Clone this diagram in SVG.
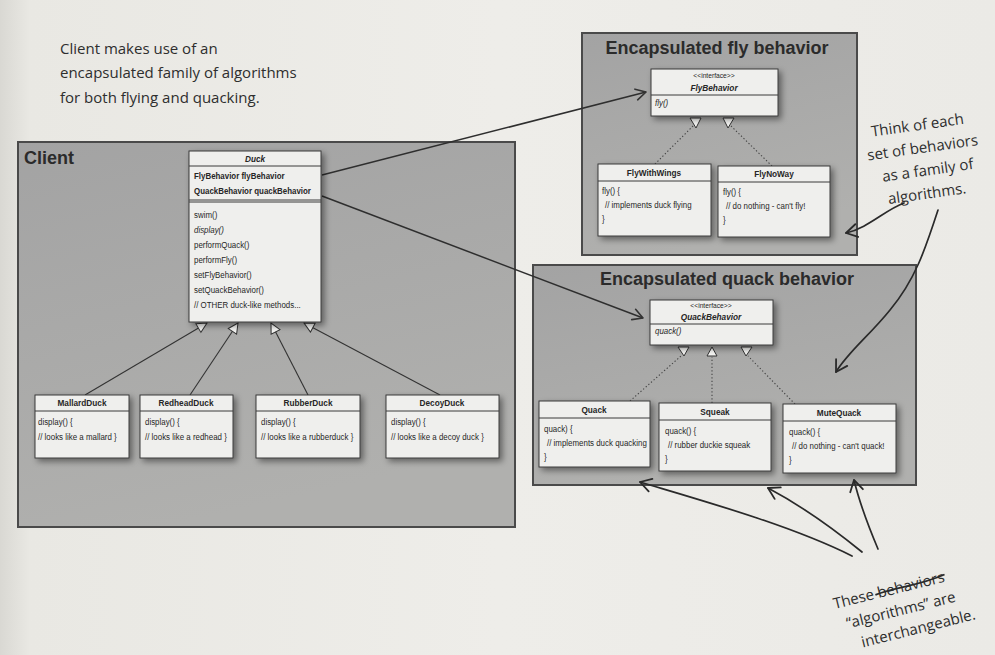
<svg xmlns="http://www.w3.org/2000/svg" width="995" height="655" viewBox="0 0 995 655">
  <defs>
    <linearGradient id="page" x1="0" y1="0" x2="1" y2="0">
      <stop offset="0" stop-color="#d9d8d3"/>
      <stop offset="0.03" stop-color="#e9e8e3"/>
      <stop offset="0.5" stop-color="#eeede9"/>
      <stop offset="1" stop-color="#ebeae6"/>
    </linearGradient>
    <linearGradient id="panel" x1="0" y1="0" x2="0.3" y2="1">
      <stop offset="0" stop-color="#a3a3a3"/>
      <stop offset="1" stop-color="#b0b0ae"/>
    </linearGradient>
    <filter id="shadow" x="-20%" y="-20%" width="150%" height="150%">
      <feDropShadow dx="3" dy="3" stdDeviation="3" flood-color="#000" flood-opacity="0.45"/>
    </filter>
    <marker id="inherit" viewBox="0 0 12 12" refX="11" refY="6" markerWidth="12" markerHeight="12" markerUnits="userSpaceOnUse" orient="auto">
      <path d="M1,1 L11,6 L1,11 Z" fill="#f4f4f2" stroke="#333" stroke-width="1"/>
    </marker>
    <marker id="open" viewBox="0 0 14 14" refX="12" refY="7" markerWidth="14" markerHeight="14" markerUnits="userSpaceOnUse" orient="auto">
      <path d="M2,1.5 L12,7 L2,12.5" fill="none" stroke="#333" stroke-width="1.6" stroke-linecap="round" stroke-linejoin="round"/>
    </marker>
    <marker id="hand" viewBox="0 0 16 16" refX="13" refY="8" markerWidth="16" markerHeight="16" markerUnits="userSpaceOnUse" orient="auto">
      <path d="M2,1.5 L13,8 L2,14.5" fill="none" stroke="#2a2a2a" stroke-width="1.8" stroke-linecap="round" stroke-linejoin="round"/>
    </marker>
  </defs>
  <style>
    .panel { fill: url(#panel); stroke: #4a4a4a; stroke-width: 2; }
    .panelTitle { font-family: "Liberation Sans", Arial, sans-serif; font-weight: bold; font-size: 18px; fill: #2b2b2b; }
    .box { fill: #efefed; stroke: #3a3a3a; stroke-width: 1; filter: url(#shadow); }
    .div { stroke: #3a3a3a; stroke-width: 1; }
    .uml { font-family: "Liberation Sans", Arial, sans-serif; font-size: 9.2px; fill: #262626;
           transform-box: fill-box; transform-origin: 0 50%; transform: scaleX(0.86); }
    .name { font-weight: bold; text-anchor: middle; font-size: 9.6px; transform-origin: 50% 50%; }
    .ital { font-style: italic; }
    .bold { font-weight: bold; }
    .small { font-size: 7.8px; text-anchor: middle; transform-origin: 50% 50%; }
    .hand { font-family: "Open Sans", "DejaVu Sans", sans-serif; font-size: 15px; fill: #2e2e2e; }
    .gen { stroke: #333; stroke-width: 1.1; fill: none; marker-end: url(#inherit); }
    .real { stroke: #444; stroke-width: 1.1; stroke-dasharray: 1.3 2.2; fill: none; }
    .assoc { stroke: #2e2e2e; stroke-width: 1.5; fill: none; marker-end: url(#open); }
    .ink { stroke: #2a2a2a; stroke-width: 1.7; fill: none; stroke-linecap: round; marker-end: url(#hand); }
  </style>

  <!-- page -->
  <rect x="0" y="0" width="995" height="655" fill="url(#page)"/>

  <!-- panels -->
  <g id="client-panel">
    <rect class="panel" x="18" y="142" width="497" height="385"/>
    <text class="panelTitle" x="24" y="164" font-size="17">Client</text>
  </g>
  <g id="fly-panel">
    <rect class="panel" x="582" y="33" width="275" height="222"/>
    <text class="panelTitle" x="717" y="54" text-anchor="middle">Encapsulated fly behavior</text>
  </g>
  <g id="quack-panel">
    <rect class="panel" x="533" y="265" width="383" height="220"/>
    <text class="panelTitle" x="727" y="285" text-anchor="middle">Encapsulated quack behavior</text>
  </g>

  <!-- connectors -->
  <g id="connectors">
    <!-- subclasses to Duck -->
    <line class="gen" x1="85" y1="395" x2="207" y2="323"/>
    <line class="gen" x1="190" y1="395" x2="238" y2="323"/>
    <line class="gen" x1="308" y1="395" x2="271" y2="323"/>
    <line class="gen" x1="440" y1="395" x2="304" y2="323"/>
    <!-- fly implementations to FlyBehavior -->
    <line class="real" x1="655" y1="164" x2="694" y2="125"/>
    <line class="real" x1="772" y1="166" x2="730" y2="125"/>
    <path d="M690,118 L701,118 L696,128 Z" fill="#f4f4f2" stroke="#333" stroke-width="1"/>
    <path d="M723,118 L734,118 L728,128 Z" fill="#f4f4f2" stroke="#333" stroke-width="1"/>
    <!-- quack implementations to QuackBehavior -->
    <line class="real" x1="630" y1="401" x2="681" y2="356"/>
    <line class="real" x1="712" y1="403" x2="712" y2="357"/>
    <line class="real" x1="795" y1="404" x2="748" y2="356"/>
    <path d="M678,347 L689,347 L684,356 Z" fill="#f4f4f2" stroke="#333" stroke-width="1"/>
    <path d="M707,356 L717,356 L712,347 Z" fill="#f4f4f2" stroke="#333" stroke-width="1"/>
    <path d="M741,347 L752,347 L746,356 Z" fill="#f4f4f2" stroke="#333" stroke-width="1"/>
    <!-- Duck references to behaviors -->
    <line class="assoc" x1="322" y1="175" x2="646" y2="92"/>
    <line class="assoc" x1="322" y1="196" x2="643" y2="318"/>
  </g>

  <!-- Duck -->
  <g id="duck">
    <rect class="box" x="189" y="151" width="132" height="171"/>
    <line class="div" x1="189" y1="166" x2="321" y2="166"/>
    <line class="div" x1="189" y1="200" x2="321" y2="200"/>
    <line class="div" x1="189" y1="202" x2="321" y2="202"/>
    <text class="uml name ital" x="255" y="162">Duck</text>
    <text class="uml bold" x="194" y="179">FlyBehavior flyBehavior</text>
    <text class="uml bold" x="194" y="194">QuackBehavior quackBehavior</text>
    <text class="uml" x="194" y="218">swim()</text>
    <text class="uml ital" x="194" y="233">display()</text>
    <text class="uml" x="194" y="248">performQuack()</text>
    <text class="uml" x="194" y="263">performFly()</text>
    <text class="uml" x="194" y="278">setFlyBehavior()</text>
    <text class="uml" x="194" y="293">setQuackBehavior()</text>
    <text class="uml" x="194" y="308">// OTHER duck-like methods...</text>
  </g>

  <!-- Duck subclasses -->
  <g id="mallard-duck">
    <rect class="box" x="35" y="395" width="94" height="63"/>
    <line class="div" x1="35" y1="411" x2="129" y2="411"/>
    <text class="uml name" x="82" y="406">MallardDuck</text>
    <text class="uml" x="38" y="425">display() {</text>
    <text class="uml" x="38" y="440">// looks like a mallard }</text>
  </g>
  <g id="redhead-duck">
    <rect class="box" x="140" y="395" width="93" height="63"/>
    <line class="div" x1="140" y1="411" x2="233" y2="411"/>
    <text class="uml name" x="186" y="406">RedheadDuck</text>
    <text class="uml" x="145" y="425">display() {</text>
    <text class="uml" x="145" y="440">// looks like a redhead }</text>
  </g>
  <g id="rubber-duck">
    <rect class="box" x="256" y="395" width="104" height="63"/>
    <line class="div" x1="256" y1="411" x2="360" y2="411"/>
    <text class="uml name" x="308" y="406">RubberDuck</text>
    <text class="uml" x="261" y="425">display() {</text>
    <text class="uml" x="261" y="440">// looks like a rubberduck }</text>
  </g>
  <g id="decoy-duck">
    <rect class="box" x="386" y="395" width="113" height="63"/>
    <line class="div" x1="386" y1="411" x2="499" y2="411"/>
    <text class="uml name" x="442" y="406">DecoyDuck</text>
    <text class="uml" x="391" y="425">display() {</text>
    <text class="uml" x="391" y="440">// looks like a decoy duck }</text>
  </g>

  <!-- Fly behavior family -->
  <g id="fly-behavior">
    <rect class="box" x="651" y="69" width="127" height="47"/>
    <line class="div" x1="651" y1="95" x2="778" y2="95"/>
    <text class="uml small" x="714" y="78">&lt;&lt;interface&gt;&gt;</text>
    <text class="uml name ital" x="714" y="91">FlyBehavior</text>
    <text class="uml ital" x="655" y="106" font-size="8">fly()</text>
  </g>
  <g id="fly-with-wings">
    <rect class="box" x="598" y="164" width="113" height="72"/>
    <line class="div" x1="598" y1="181" x2="711" y2="181"/>
    <text class="uml name" x="654" y="176">FlyWithWings</text>
    <text class="uml" x="602" y="194">fly() {</text>
    <text class="uml" x="605" y="208">// implements duck flying</text>
    <text class="uml" x="602" y="222">}</text>
  </g>
  <g id="fly-no-way">
    <rect class="box" x="718" y="166" width="112" height="71"/>
    <line class="div" x1="718" y1="182" x2="830" y2="182"/>
    <text class="uml name" x="774" y="177">FlyNoWay</text>
    <text class="uml" x="723" y="195">fly() {</text>
    <text class="uml" x="726" y="209">// do nothing - can't fly!</text>
    <text class="uml" x="723" y="223">}</text>
  </g>

  <!-- Quack behavior family -->
  <g id="quack-behavior">
    <rect class="box" x="650" y="300" width="123" height="45"/>
    <line class="div" x1="650" y1="324" x2="773" y2="324"/>
    <text class="uml small" x="711" y="308">&lt;&lt;interface&gt;&gt;</text>
    <text class="uml name ital" x="711" y="320">QuackBehavior</text>
    <text class="uml ital" x="655" y="334" font-size="8.5">quack()</text>
  </g>
  <g id="quack">
    <rect class="box" x="539" y="401" width="111" height="66"/>
    <line class="div" x1="539" y1="418" x2="650" y2="418"/>
    <text class="uml name" x="594" y="413">Quack</text>
    <text class="uml" x="544" y="432">quack) {</text>
    <text class="uml" x="547" y="446">// implements duck quacking</text>
    <text class="uml" x="544" y="460">}</text>
  </g>
  <g id="squeak">
    <rect class="box" x="659" y="403" width="112" height="68"/>
    <line class="div" x1="659" y1="420" x2="771" y2="420"/>
    <text class="uml name" x="715" y="415">Squeak</text>
    <text class="uml" x="665" y="434">quack() {</text>
    <text class="uml" x="668" y="448">// rubber duckie squeak</text>
    <text class="uml" x="665" y="462">}</text>
  </g>
  <g id="mute-quack">
    <rect class="box" x="783" y="404" width="113" height="69"/>
    <line class="div" x1="783" y1="421" x2="896" y2="421"/>
    <text class="uml name" x="839" y="416">MuteQuack</text>
    <text class="uml" x="789" y="435">quack() {</text>
    <text class="uml" x="792" y="449">// do nothing - can't quack!</text>
    <text class="uml" x="789" y="463">}</text>
  </g>

  <!-- handwritten notes -->
  <g id="note-client">
    <text class="hand" x="60" y="54">Client makes use of an</text>
    <text class="hand" x="60" y="78" font-size="16">encapsulated family of algorithms</text>
    <text class="hand" x="60" y="103">for both flying and quacking.</text>
  </g>
  <g id="note-family" transform="rotate(-8 922 158)">
    <text class="hand" x="922" y="130" text-anchor="middle">Think of each</text>
    <text class="hand" x="924" y="153" text-anchor="middle">set of behaviors</text>
    <text class="hand" x="926" y="176" text-anchor="middle">as a family of</text>
    <text class="hand" x="922" y="199" text-anchor="middle">algorithms.</text>
  </g>
  <g id="note-interchangeable" transform="rotate(-14 880 605)">
    <text class="hand" x="835" y="598">These behaviors</text>
    <path d="M878,594 C900,591 922,596 950,591" stroke="#2a2a2a" stroke-width="1.8" fill="none"/>
    <text class="hand" x="843" y="620">“algorithms” are</text>
    <text class="hand" x="853" y="642">interchangeable.</text>
  </g>

  <!-- note pointers -->
  <g id="note-pointers">
    <path class="ink" d="M904,203 C885,210 868,228 846,233"/>
    <path class="ink" d="M938,210 C925,250 915,280 890,310 C870,335 848,352 836,372"/>
    <path class="ink" d="M852,556 C790,525 700,500 640,482"/>
    <path class="ink" d="M862,552 C835,530 800,505 768,488"/>
    <path class="ink" d="M878,549 C870,530 860,505 854,480"/>
  </g>
</svg>
